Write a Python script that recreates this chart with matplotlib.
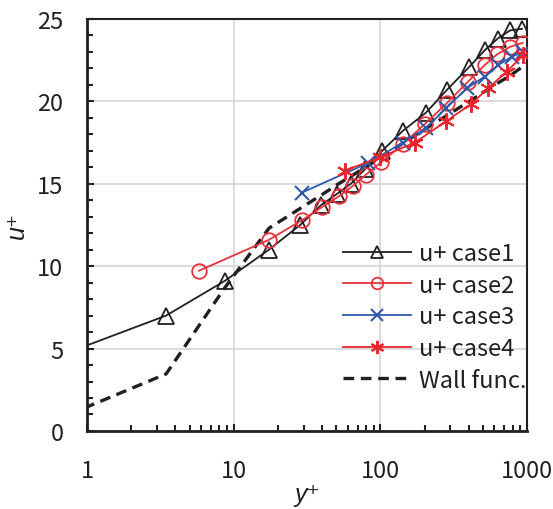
import matplotlib
matplotlib.use("Agg")
import matplotlib.pyplot as plt
from matplotlib.ticker import FixedLocator, NullFormatter

plt.rcParams['font.family'] = ['Noto Sans CJK JP', 'DejaVu Sans']

# ---- data ----
case1_x = [0.58, 3.46, 8.68, 17.4, 28.4, 39.4, 50.9, 63, 79, 103, 142, 204, 285, 405, 515, 630, 765, 925]
case1_u = [4.4, 7.0, 9.1, 11.0, 12.5, 13.7, 14.4, 15.0, 15.9, 17.0, 18.2, 19.3, 20.7, 22.1, 23.1, 23.8, 24.3, 24.4]

case2_x = [5.8, 17.4, 29.4, 40.3, 52.4, 64.7, 79.8, 101, 142, 200, 285, 397, 515, 625, 765, 935]
case2_u = [9.72, 11.6, 12.8, 13.6, 14.25, 14.85, 15.55, 16.3, 17.4, 18.6, 19.9, 21.2, 22.2, 22.85, 23.3, 23.55]

case3_x = [29, 82, 143, 206, 282, 390, 515, 637, 785, 945]
case3_u = [14.45, 16.25, 17.5, 18.4, 19.6, 20.8, 21.5, 22.2, 22.7, 23.0]

case4_x = [57, 100, 172, 282, 417, 545, 726, 945]
case4_u = [15.8, 16.6, 17.5, 18.8, 19.85, 20.8, 21.8, 22.8]

wall_x = [0.58, 3.46, 8.68, 17.4, 28.4, 39.4, 50.9, 63, 79, 103, 142, 204, 285, 405, 515, 630, 765, 1000]
wall_u = [0.58, 3.46, 8.68, 12.3, 13.5, 14.3, 14.95, 15.45, 16.0, 16.65, 17.45, 18.35, 19.15, 20.0, 20.6, 21.1, 21.55, 22.3]

x_ticks = [1, 10, 100, 1000]
x_labels = ['1', '10', '100', '1000']
y_ticks = [0, 5, 10, 15, 20, 25]

fig = plt.figure(figsize=(5.53, 5.10), dpi=100)
ax = fig.add_axes([0.1574, 0.153, 0.7956, 0.808])

c_black = '#231f20'
c_red = '#e8333c'
c_blue = '#2e5aa8'
c_red4 = '#e8242c'

ax.plot(case1_x, case1_u, color=c_black, lw=1.3, marker='^', ms=11, mfc='none',
        mec=c_black, mew=1.3, markevery=list(range(1, len(case1_x))), label='u+ case1', zorder=3)
ax.plot(case2_x, case2_u, color=c_red, lw=1.3, marker='o', ms=10.5, mfc='none',
        mec=c_red, mew=1.3, label='u+ case2', zorder=4)
ax.plot(case3_x, case3_u, color=c_blue, lw=1.3, marker='x', ms=10, mew=1.5,
        mec=c_blue, label='u+ case3', zorder=5)
ax.plot(case4_x, case4_u, color=c_red4, lw=1.3, marker=(6, 2, 0), ms=12, mew=1.4,
        mec=c_red4, label='u+ case4', zorder=6)
ax.plot(wall_x, wall_u, color=c_black, lw=2.4, ls=(0, (3.2, 2)), label='Wall func.', zorder=2)

ax.set_xscale('log')
ax.set_xlim(1, 1000)
ax.set_ylim(0, 25)

ax.xaxis.set_major_locator(FixedLocator(x_ticks))
ax.set_xticklabels(x_labels)
minor_x = [m * d for d in (1, 10, 100) for m in range(2, 10)]
ax.xaxis.set_minor_locator(FixedLocator(minor_x))
ax.xaxis.set_minor_formatter(NullFormatter())
ax.yaxis.set_major_locator(FixedLocator(y_ticks))
ax.yaxis.set_minor_locator(FixedLocator([v for v in range(0, 26) if v % 5 != 0]))

ax.tick_params(axis='both', which='both', direction='in', top=False, right=False,
               colors=c_black, labelsize=17, width=1.5)
ax.tick_params(axis='both', which='major', length=5)
ax.tick_params(axis='both', which='minor', length=4.5)
ax.tick_params(axis='x', which='major', pad=20)
ax.tick_params(axis='y', which='major', pad=17)

ax.grid(True, which='major', color='#d9d9d9', lw=1.3, zorder=0)
ax.set_axisbelow(True)

for s in ['left', 'bottom']:
    ax.spines[s].set_linewidth(2.0)
for s in ['top', 'right']:
    ax.spines[s].set_linewidth(1.5)
for s in ax.spines.values():
    s.set_color(c_black)

ax.set_xlabel('y⁺', fontsize=18, family=['Liberation Sans', 'DejaVu Sans'], style='italic',
              labelpad=0, color=c_black)
ax.set_ylabel('u⁺', fontsize=18, family=['Liberation Sans', 'DejaVu Sans'], style='italic',
              labelpad=6, color=c_black)

leg = ax.legend(loc='upper left', bbox_to_anchor=(0.56, 0.482), frameon=False,
                fontsize=17, handlelength=2.9, handletextpad=0.34, labelspacing=0.37,
                markerscale=0.8, borderaxespad=0)
for t in leg.get_texts():
    t.set_color(c_black)

fig.savefig('out.png', dpi=100)
